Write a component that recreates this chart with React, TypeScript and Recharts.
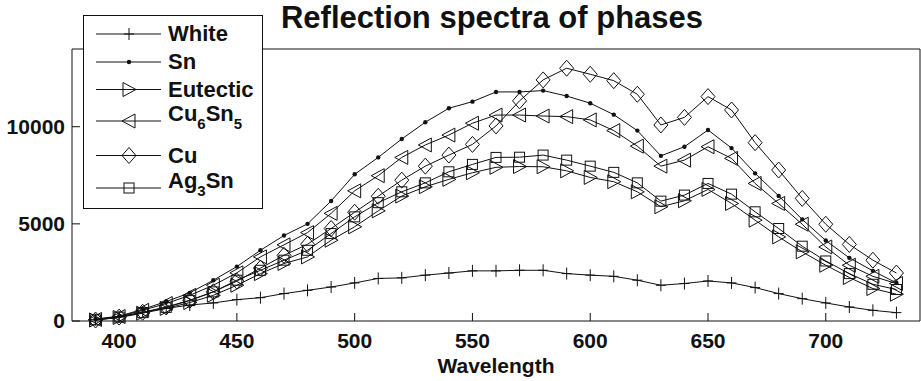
import { LineChart, Line, XAxis, YAxis, Legend } from "recharts";

const wavelengths = [
  390, 400, 410, 420, 430, 440, 450, 460, 470, 480, 490, 500, 510, 520, 530, 540, 550, 560,
  570, 580, 590, 600, 610, 620, 630, 640, 650, 660, 670, 680, 690, 700, 710, 720, 730,
];

const white = [
  70, 210, 460, 650, 820, 930, 1100, 1200, 1410, 1580, 1750, 1960, 2190, 2220, 2360, 2470, 2580, 2580,
  2610, 2610, 2440, 2360, 2300, 2100, 1840, 1930, 2060, 1960, 1720, 1410, 1150, 930, 720, 550, 430,
];
const sn = [
  100, 250, 600, 1000, 1450, 2100, 2800, 3640, 4400, 5000, 6180, 7550, 8420, 9370, 10230, 10950, 11290, 11790,
  11790, 11860, 11580, 11210, 10620, 9800, 8500, 8970, 9830, 8900, 7600, 6440, 5230, 4140, 3250, 2580, 1960,
];
const eutectic = [
  50, 180, 400, 650, 950, 1320, 1840, 2440, 2960, 3300, 4160, 4850, 5670, 6430, 6910, 7290, 7630, 7910,
  7950, 7940, 7730, 7390, 7170, 6650, 5880, 6190, 6770, 6050, 5190, 4330, 3560, 2870, 2240, 1670, 1380,
];
const cu6sn5 = [
  80, 230, 550, 900, 1320, 1840, 2480, 3300, 3920, 4550, 5540, 6700, 7480, 8420, 9060, 9570, 10180, 10600,
  10600, 10550, 10520, 10350, 9800, 9000, 7970, 8280, 8970, 8370, 7080, 6050, 4980, 3810, 2870, 2300, 1930,
];
const cu = [
  50, 200, 450, 720, 1070, 1500, 2050, 2720, 3380, 3950, 4760, 5600, 6420, 7250, 7970, 8540, 9090, 10040,
  11330, 12410, 13010, 12700, 12370, 11670, 10090, 10480, 11550, 10860, 9180, 7770, 6310, 4980, 3940, 3130, 2470,
];
const ag3sn = [
  60, 200, 430, 700, 1050, 1500, 2100, 2610, 3130, 3640, 4500, 5360, 6090, 6650, 7110, 7680, 8060, 8420,
  8430, 8540, 8280, 7970, 7650, 7110, 6170, 6480, 7080, 6530, 5620, 4760, 3850, 3090, 2440, 1890, 1620,
];

const xTicks = [400, 450, 500, 550, 600, 650, 700];
const yTicks = [0, 5000, 10000];

const data = wavelengths.map((w, i) => ({
  w,
  white: white[i],
  sn: sn[i],
  eutectic: eutectic[i],
  cu6sn5: cu6sn5[i],
  cu: cu[i],
  ag3sn: ag3sn[i],
}));

const FONT = '"Liberation Sans", Arial, Helvetica, sans-serif';
const INK = "#111";

type Shape = "plus" | "dot" | "right" | "left" | "diamond" | "square";

function markerPath(shape: Shape, cx: number, cy: number) {
  switch (shape) {
    case "plus":
      return <path d={`M${cx - 5},${cy}H${cx + 5}M${cx},${cy - 6}V${cy + 6}`} stroke={INK} fill="none" />;
    case "dot":
      return <circle cx={cx} cy={cy} r={2.2} fill={INK} stroke="none" />;
    case "right":
      return (
        <polygon
          points={`${cx - 6},${cy - 7} ${cx - 6},${cy + 7} ${cx + 7},${cy}`}
          stroke={INK}
          fill="none"
        />
      );
    case "left":
      return (
        <polygon
          points={`${cx + 6},${cy - 7} ${cx + 6},${cy + 7} ${cx - 7},${cy}`}
          stroke={INK}
          fill="none"
        />
      );
    case "diamond":
      return (
        <polygon
          points={`${cx},${cy - 8} ${cx + 7},${cy} ${cx},${cy + 8} ${cx - 7},${cy}`}
          stroke={INK}
          fill="none"
        />
      );
    default:
      return <rect x={cx - 5} y={cy - 5} width={10} height={10} stroke={INK} fill="none" />;
  }
}

const makeDot = (shape: Shape) => (p: any) => {
  if (p.cx == null || p.cy == null) return <g key={`${shape}-${p.index}`} />;
  return <g key={`${shape}-${p.index}`}>{markerPath(shape, p.cx, p.cy)}</g>;
};

const Sub = ({ children }: { children: string }) => (
  <span style={{ fontSize: 15, position: "relative", top: 8 }}>{children}</span>
);

const series: { key: string; shape: Shape; rowH: number; sub: boolean; label: any }[] = [
  { key: "white", shape: "plus", rowH: 28, sub: false, label: "White" },
  { key: "sn", shape: "dot", rowH: 28, sub: false, label: "Sn" },
  { key: "eutectic", shape: "right", rowH: 27, sub: false, label: "Eutectic" },
  {
    key: "cu6sn5",
    shape: "left",
    rowH: 36,
    sub: true,
    label: (
      <>
        Cu<Sub>6</Sub>Sn<Sub>5</Sub>
      </>
    ),
  },
  { key: "cu", shape: "diamond", rowH: 33, sub: false, label: "Cu" },
  {
    key: "ag3sn",
    shape: "square",
    rowH: 32,
    sub: true,
    label: (
      <>
        Ag<Sub>3</Sub>Sn
      </>
    ),
  },
];

const LegendBox = () => (
  <div
    style={{
      width: 178,
      height: 192,
      border: `1px solid ${INK}`,
      background: "#fff",
      boxSizing: "content-box",
      fontFamily: FONT,
      fontWeight: 700,
      fontSize: 22,
      color: INK,
    }}
  >
    <div style={{ height: 4 }} />
    {series.map((s) => (
      <div key={s.key} style={{ height: s.rowH, display: "flex", alignItems: "center" }}>
        <svg width={84} height={s.rowH} style={{ display: "block", flex: "none" }}>
          <line x1={12} x2={77} y1={s.rowH / 2} y2={s.rowH / 2} stroke={INK} />
          {markerPath(s.shape, 45, s.rowH / 2)}
        </svg>
        <span style={{ position: "relative", top: s.sub ? -7 : 0, whiteSpace: "nowrap", lineHeight: 1 }}>
          {s.label}
        </span>
      </div>
    ))}
  </div>
);

export default function App() {
  const tickStyle = { fill: INK, fontSize: 21, fontWeight: 700, fontFamily: FONT };
  return (
    <div style={{ position: "absolute", left: 0, top: 0, width: 921, height: 381, background: "#fff" }}>
      <LineChart width={921} height={381} data={data} margin={{ top: 48, right: 0, bottom: 0, left: 0 }}>
        <XAxis
          xAxisId="b"
          dataKey="w"
          type="number"
          domain={[380, 740]}
          ticks={xTicks}
          height={60}
          tickSize={-8}
          tickMargin={20}
          tick={tickStyle}
          axisLine={{ stroke: INK }}
          tickLine={{ stroke: INK }}
          label={{
            value: "Wavelength",
            position: "insideBottom",
            offset: 8,
            style: { fill: INK, fontSize: 21, fontWeight: 700, fontFamily: FONT },
          }}
        />
        <XAxis
          xAxisId="t"
          orientation="top"
          dataKey="w"
          type="number"
          domain={[380, 740]}
          ticks={xTicks}
          height={1}
          tickSize={-8}
          tick={false}
          axisLine={{ stroke: INK }}
          tickLine={{ stroke: INK }}
          label={{
            value: "Reflection spectra of phases",
            position: "top",
            offset: 20,
            dx: -4,
            style: { fill: INK, fontSize: 31, fontWeight: 700, fontFamily: FONT },
          }}
        />
        <YAxis
          yAxisId="l"
          type="number"
          domain={[0, 14000]}
          ticks={yTicks}
          width={72}
          tickSize={-8}
          tickMargin={15}
          tick={tickStyle}
          axisLine={{ stroke: INK }}
          tickLine={{ stroke: INK }}
        />
        <YAxis
          yAxisId="r"
          orientation="right"
          type="number"
          domain={[0, 14000]}
          ticks={yTicks}
          width={1}
          tickSize={-8}
          tick={false}
          axisLine={{ stroke: INK }}
          tickLine={{ stroke: INK }}
        />
        <Legend
          layout="vertical"
          align="center"
          verticalAlign="middle"
          content={() => <LegendBox />}
          wrapperStyle={{ left: 83, top: 15, width: 180, height: 194 }}
        />
        {series.map((s) => (
          <Line
            key={s.key}
            xAxisId="b"
            yAxisId="l"
            dataKey={s.key}
            type="linear"
            stroke={INK}
            strokeWidth={1}
            dot={makeDot(s.shape)}
            activeDot={false}
            isAnimationActive={false}
          />
        ))}
      </LineChart>
    </div>
  );
}
